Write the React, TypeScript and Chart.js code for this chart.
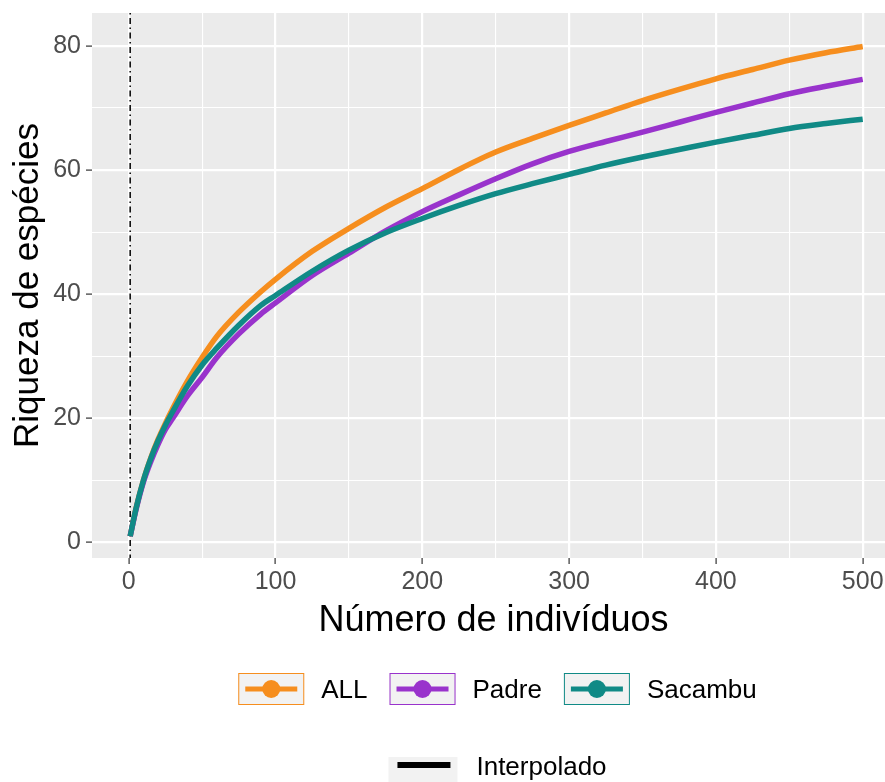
import { useEffect, useRef } from "react";
import { Chart, registerables } from "chart.js";

Chart.register(...registerables);

const FONT = "'Liberation Sans', Arial, sans-serif";

// Rarefaction curves: number of individuals vs. species richness
const individuals = [1, 5, 10, 15, 20, 25, 30, 40, 50, 60, 75, 90, 100, 125, 150, 175, 200, 225, 250, 275, 300, 325, 350, 375, 400, 425, 450, 475, 500];
const richnessAll = [1, 5.5, 10, 13.6, 16.6, 19.2, 21.6, 26, 29.8, 33.2, 37.1, 40.4, 42.4, 46.9, 50.6, 54, 57, 60.1, 62.9, 65.1, 67.2, 69.2, 71.2, 73, 74.7, 76.2, 77.7, 78.9, 79.9];
const richnessPadre = [1, 5.3, 9.7, 13, 15.8, 18.2, 20, 23.6, 26.6, 29.8, 33.6, 36.8, 38.6, 43, 46.6, 50.2, 53.3, 56, 58.6, 61, 63, 64.6, 66.1, 67.7, 69.3, 70.8, 72.3, 73.5, 74.6];
const richnessSacambu = [1, 5.5, 10, 13.5, 16.4, 18.9, 21.1, 25.2, 28.6, 31.3, 35, 38.2, 39.8, 43.7, 47.1, 49.9, 52.2, 54.3, 56.2, 57.8, 59.3, 60.8, 62.1, 63.3, 64.5, 65.6, 66.7, 67.5, 68.2];

const seriesNames = ["ALL", "Padre", "Sacambu"];
const seriesColors = ["#F68E1E", "#9933CC", "#108A86"];
const methodLabel = "Interpolado";

// Grid positions (major + minor) and label steps
const xGridValues = [0, 50, 100, 150, 200, 250, 300, 350, 400, 450, 500];
const yGridValues = [0, 10, 20, 30, 40, 50, 60, 70, 80];
const xLabelStep = 100;
const yLabelStep = 20;
const referenceSize = 1;

const panelPlugin = {
  id: "panelBackground",
  beforeDraw(chart: any) {
    const { ctx, chartArea } = chart;
    ctx.save();
    ctx.fillStyle = "#EBEBEB";
    ctx.fillRect(chartArea.left, chartArea.top, chartArea.right - chartArea.left, chartArea.bottom - chartArea.top);
    ctx.restore();
  },
  beforeDatasetsDraw(chart: any) {
    const { ctx, chartArea, scales } = chart;
    const px = scales.x.getPixelForValue(referenceSize);
    ctx.save();
    ctx.strokeStyle = "#000000";
    ctx.lineWidth = 1.5;
    ctx.setLineDash([1.5, 3.5, 6, 3.5]);
    ctx.beginPath();
    ctx.moveTo(px, chartArea.top);
    ctx.lineTo(px, chartArea.bottom);
    ctx.stroke();
    ctx.restore();
  },
};

const legendPlugin = {
  id: "curveLegend",
  afterDraw(chart: any) {
    const { ctx, chartArea } = chart;
    const cx = (chartArea.left + chartArea.right) / 2 + 4;
    const boxW = 66;
    const boxH = 32;
    const gapText = 17;
    const gapItem = 22;
    ctx.save();
    ctx.font = `26px ${FONT}`;
    ctx.textAlign = "left";
    ctx.textBaseline = "middle";
    const widths = seriesNames.map((n) => ctx.measureText(n).width);
    const total = widths.reduce((s, w) => s + boxW + gapText + w, 0) + gapItem * (seriesNames.length - 1);
    let x = cx - total / 2;
    const rowY = 689;
    seriesNames.forEach((name, i) => {
      const color = seriesColors[i];
      ctx.fillStyle = "#F2F2F2";
      ctx.fillRect(x, rowY - boxH / 2, boxW, boxH);
      ctx.strokeStyle = color;
      ctx.lineWidth = 1;
      ctx.strokeRect(x + 0.5, rowY - boxH / 2 + 0.5, boxW - 1, boxH - 1);
      ctx.lineWidth = 5;
      ctx.beginPath();
      ctx.moveTo(x + 7, rowY);
      ctx.lineTo(x + boxW - 7, rowY);
      ctx.stroke();
      ctx.fillStyle = color;
      ctx.beginPath();
      ctx.arc(x + boxW / 2, rowY, 9, 0, Math.PI * 2);
      ctx.fill();
      ctx.fillStyle = "#000000";
      ctx.fillText(name, x + boxW + gapText, rowY + 2);
      x += boxW + gapText + widths[i] + gapItem;
    });

    // method key
    const mW = ctx.measureText(methodLabel).width;
    const total2 = 69 + 19 + mW;
    const x2 = cx - total2 / 2;
    const row2 = 765;
    ctx.fillStyle = "#F2F2F2";
    ctx.fillRect(x2, 757, 69, 40);
    ctx.strokeStyle = "#000000";
    ctx.lineWidth = 6;
    ctx.beginPath();
    ctx.moveTo(x2 + 9, row2);
    ctx.lineTo(x2 + 62, row2);
    ctx.stroke();
    ctx.fillStyle = "#000000";
    ctx.fillText(methodLabel, x2 + 69 + 19, row2 + 3);
    ctx.restore();
  },
};

function makeData(values: number[]) {
  return individuals.map((x, i) => ({ x, y: values[i] }));
}

export default function App() {
  const canvasRef = useRef<HTMLCanvasElement | null>(null);

  useEffect(() => {
    if (!canvasRef.current) return;
    const series = [richnessAll, richnessPadre, richnessSacambu];
    const chart = new Chart(canvasRef.current, {
      type: "line",
      data: {
        datasets: series.map((values, i) => ({
          label: seriesNames[i],
          data: makeData(values),
          borderColor: seriesColors[i],
          backgroundColor: seriesColors[i],
          borderWidth: 5.5,
          pointRadius: 0,
          tension: 0.4,
          cubicInterpolationMode: "monotone" as const,
          order: seriesNames.length - i,
        })),
      },
      options: {
        responsive: false,
        animation: false,
        devicePixelRatio: 1,
        layout: { padding: { top: 13, right: 5, bottom: 134, left: 0 } },
        plugins: {
          legend: { display: false },
          tooltip: { enabled: false },
        },
        scales: {
          x: {
            type: "linear",
            min: -25,
            max: 522,
            afterBuildTicks: (s: any) => {
              s.ticks = xGridValues.map((v) => ({ value: v }));
            },
            afterFit: (s: any) => {
              s.height = 90;
            },
            border: { display: false },
            grid: {
              color: "#FFFFFF",
              lineWidth: (c: any) => (c.tick && c.tick.value % xLabelStep === 0 ? 2.2 : 1.1),
              tickColor: (c: any) => (c.tick && c.tick.value % xLabelStep === 0 ? "#333333" : "rgba(0,0,0,0)"),
              tickLength: 6,
              tickWidth: 1.2,
            },
            ticks: {
              autoSkip: false,
              maxRotation: 0,
              padding: 3,
              color: "#4D4D4D",
              font: { family: FONT, size: 25 },
              callback: (v: any) => (Number(v) % xLabelStep === 0 ? String(v) : ""),
            },
            title: {
              display: true,
              text: "Número de indivíduos",
              color: "#000000",
              font: { family: FONT, size: 36 },
              padding: { top: 0, bottom: 5 },
            },
          },
          y: {
            type: "linear",
            min: -2.5,
            max: 85.3,
            afterBuildTicks: (s: any) => {
              s.ticks = yGridValues.map((v) => ({ value: v }));
            },
            afterFit: (s: any) => {
              s.width = 92;
              s.paddingTop = 0;
              s.paddingBottom = 0;
            },
            border: { display: false },
            grid: {
              color: "#FFFFFF",
              lineWidth: (c: any) => (c.tick && c.tick.value % yLabelStep === 0 ? 2.2 : 1.1),
              tickColor: (c: any) => (c.tick && c.tick.value % yLabelStep === 0 ? "#333333" : "rgba(0,0,0,0)"),
              tickLength: 6,
              tickWidth: 1.2,
            },
            ticks: {
              autoSkip: false,
              padding: 5,
              color: "#4D4D4D",
              font: { family: FONT, size: 25 },
              callback: (v: any) => (Number(v) % yLabelStep === 0 ? String(v) : ""),
            },
            title: {
              display: true,
              text: "Riqueza de espécies",
              color: "#000000",
              font: { family: FONT, size: 35 },
              padding: { top: 7, bottom: 0 },
            },
          },
        },
      },
      plugins: [panelPlugin, legendPlugin],
    } as any);
    return () => chart.destroy();
  }, []);

  return (
    <div style={{ position: "fixed", left: 0, top: 0, width: 885, height: 782, overflow: "hidden", background: "#FFFFFF" }}>
      <canvas ref={canvasRef} width={900} height={782} style={{ display: "block" }} />
    </div>
  );
}
